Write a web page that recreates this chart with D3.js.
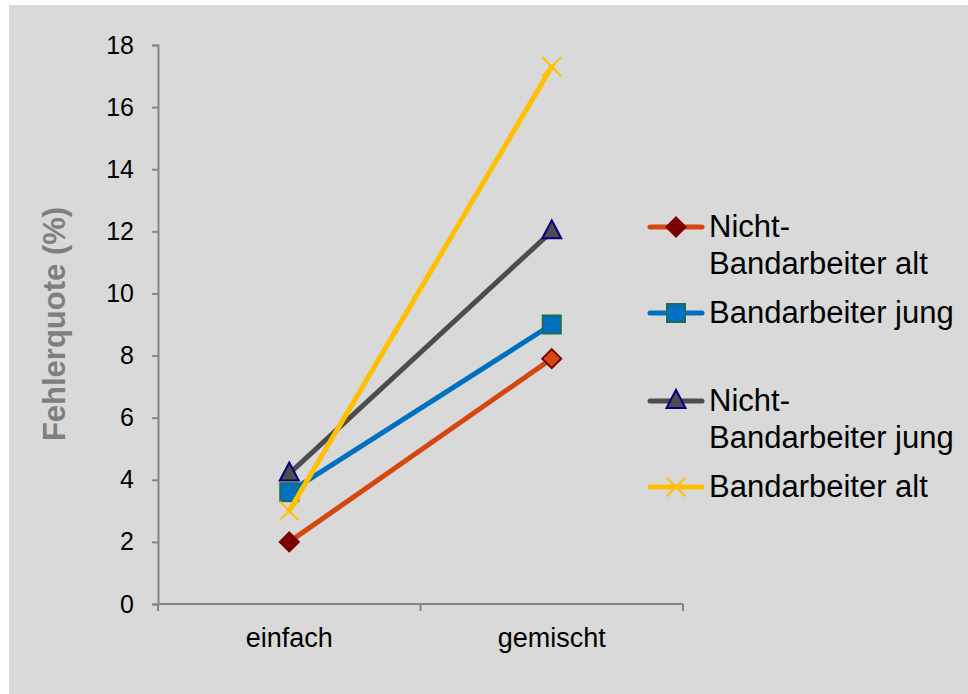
<!DOCTYPE html>
<html>
<head>
<meta charset="utf-8">
<script src="https://cdn.jsdelivr.net/npm/d3@7/dist/d3.min.js"></script>
<style>
  html, body { margin: 0; padding: 0; background: #ffffff; }
  svg { display: block; }
  text { font-family: "Liberation Sans", Arial, sans-serif; }
</style>
</head>
<body>
<svg id="chart" width="968" height="694"></svg>
<script>
// Fehlerquote nach Aufgabentyp und Gruppe
const categories = ["einfach", "gemischt"];
const seriesNames = [
  ["Nicht-", "Bandarbeiter alt"],
  ["Bandarbeiter jung"],
  ["Nicht-", "Bandarbeiter jung"],
  ["Bandarbeiter alt"]
];
const nichtBandAlt = [2.0, 7.9];
const bandJung = [3.6, 9.0];
const nichtBandJung = [4.2, 12.0];
const bandAlt = [3.0, 17.3];
const yTicks = [0, 2, 4, 6, 8, 10, 12, 14, 16, 18];

const series = [
  { name: seriesNames[0], values: nichtBandAlt, line: "#d5470f", marker: "diamond",
    fill: ["#7a0000", "#d5470f"], stroke: "#7a0000" },
  { name: seriesNames[1], values: bandJung, line: "#0070c0", marker: "square",
    fill: ["#0070c0", "#0070c0"], stroke: "#1f6b55" },
  { name: seriesNames[2], values: nichtBandJung, line: "#4d4d4d", marker: "triangle",
    fill: ["#4d4d4d", "#4d4d4d"], stroke: "#000080" },
  { name: seriesNames[3], values: bandAlt, line: "#ffc000", marker: "cross",
    fill: ["none", "none"], stroke: "#ffc000" }
];

const svg = d3.select("#chart");
svg.append("rect").attr("x", 9).attr("y", 5).attr("width", 959).attr("height", 689)
  .attr("fill", "#d9d9d9");

const plot = { left: 158, right: 683, top: 45, bottom: 604 };

const x = d3.scaleBand().domain(categories).range([plot.left, plot.right]);
const y = d3.scaleLinear().domain([0, 18]).range([plot.bottom, plot.top]);

const axisColor = "#868686";

// y axis
const yAxis = svg.append("g").attr("transform", `translate(${plot.left},0)`)
  .call(d3.axisLeft(y).tickValues(yTicks).tickSize(6).tickPadding(18));
yAxis.select(".domain").attr("stroke", axisColor).attr("stroke-width", 2);
yAxis.selectAll(".tick line").attr("stroke", axisColor).attr("stroke-width", 2);
yAxis.selectAll(".tick text").attr("fill", "#000").attr("font-size", 25)
  .attr("font-family", "Liberation Sans, Arial, sans-serif");

// x axis: ticks on category boundaries
const xAxisG = svg.append("g").attr("transform", `translate(0,${plot.bottom})`);
xAxisG.append("line").attr("x1", plot.left).attr("x2", plot.right)
  .attr("y1", 0).attr("y2", 0).attr("stroke", axisColor).attr("stroke-width", 2);
const bounds = [plot.left, x(categories[1]), plot.right];
xAxisG.selectAll("line.tb").data(bounds).enter().append("line").attr("class", "tb")
  .attr("x1", d => d).attr("x2", d => d).attr("y1", 0).attr("y2", 7)
  .attr("stroke", axisColor).attr("stroke-width", 2);
xAxisG.selectAll("text").data(categories).enter().append("text")
  .attr("x", d => x(d) + x.bandwidth() / 2).attr("y", 43)
  .attr("text-anchor", "middle").attr("font-size", 27).attr("fill", "#000")
  .text(d => d);

// y axis title
svg.append("text")
  .attr("transform", `translate(65,324) rotate(-90)`)
  .attr("text-anchor", "middle")
  .attr("font-size", 31).attr("font-weight", "bold").attr("fill", "#7f7f7f")
  .text("Fehlerquote (%)");

const cx = c => x(c) + x.bandwidth() / 2;

function drawMarker(g, type, px, py, fill, stroke) {
  if (type === "diamond") {
    const r = 9.5;
    g.append("path").attr("d", `M${px},${py - r}L${px + r},${py}L${px},${py + r}L${px - r},${py}Z`)
      .attr("fill", fill).attr("stroke", stroke).attr("stroke-width", 2);
  } else if (type === "square") {
    const s = 9;
    g.append("rect").attr("x", px - s).attr("y", py - s).attr("width", 2 * s).attr("height", 2 * s)
      .attr("fill", fill).attr("stroke", stroke).attr("stroke-width", 2);
  } else if (type === "triangle") {
    g.append("path").attr("d", `M${px},${py - 11}L${px + 9.5},${py + 7}L${px - 9.5},${py + 7}Z`)
      .attr("fill", fill).attr("stroke", stroke).attr("stroke-width", 2);
  } else if (type === "cross") {
    const r = 9.5;
    g.append("path").attr("d", `M${px - r},${py - r}L${px + r},${py + r}M${px - r},${py + r}L${px + r},${py - r}`)
      .attr("fill", "none").attr("stroke", stroke).attr("stroke-width", 2);
  }
}

const line = d3.line().x((d, i) => cx(categories[i])).y(d => y(d));

series.forEach(s => {
  const g = svg.append("g");
  g.append("path").datum(s.values).attr("d", line)
    .attr("fill", "none").attr("stroke", s.line).attr("stroke-width", 5)
    .attr("stroke-linecap", "round");
  s.values.forEach((v, i) => drawMarker(g, s.marker, cx(categories[i]), y(v), s.fill[i], s.stroke));
});

// legend
const legendRows = [227, 313, 401, 487];
const legend = svg.append("g");
series.forEach((s, i) => {
  const ly = legendRows[i];
  legend.append("line").attr("x1", 650).attr("x2", 702).attr("y1", ly).attr("y2", ly)
    .attr("stroke", s.line).attr("stroke-width", 5).attr("stroke-linecap", "round");
  drawMarker(legend, s.marker, 676, ly, s.fill[0], s.stroke);
  s.name.forEach((t, j) => {
    legend.append("text").attr("x", 709).attr("y", ly + 10 + j * 37)
      .attr("font-size", 31).attr("fill", "#000").text(t);
  });
});
</script>
</body>
</html>
